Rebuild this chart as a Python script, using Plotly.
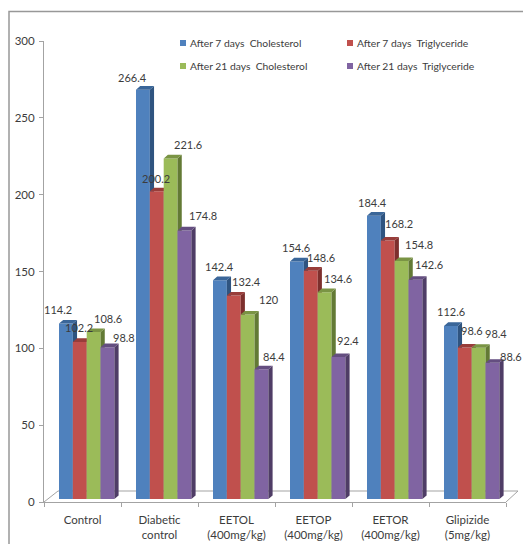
import plotly.graph_objects as go

# Serum lipid levels per treatment group
groups = ["Control", "Diabetic<br>control", "EETOL<br>(400mg/kg)", "EETOP<br>(400mg/kg)",
          "EETOR<br>(400mg/kg)", "Glipizide<br>(5mg/kg)"]
chol_7 = [114.2, 266.4, 142.4, 154.6, 184.4, 112.6]
trig_7 = [102.2, 200.2, 132.4, 148.6, 168.2, 98.6]
chol_21 = [108.6, 221.6, 120, 134.6, 154.8, 98.4]
trig_21 = [98.8, 174.8, 84.4, 92.4, 142.6, 88.6]
series_names = ["After 7 days  Cholesterol", "After 7 days  Triglyceride",
                "After 21 days  Cholesterol", "After 21 days  Triglyceride"]
series_values = [chol_7, trig_7, chol_21, trig_21]

# Label offsets in pixels (right, up) so the value labels stay legible
label_dx = [[-8, -10, 0, -1, -1, 0], [-1, -1, 13, 10, 11, 7],
            [14, 17, 21, 13, 17, 17], [16.5, 18.5, 12.5, 9.5, 13.5, 18.5]]
label_dy = [[14, 12, 14, 14, 13, 14], [14, 13, 14, 13, 17, 17],
            [14, 14, 15, 14, 17, 14.5], [10, 15, 13, 17, 15.5, 6.5]]

W, H = 523, 544
FONT = "Lato, Open Sans, sans-serif"
TEXT = "#3c3c3c"
GRID = "#a3a3a3"
front = ["#4f81bd", "#c0504d", "#9bbb59", "#8064a2"]
side = ["#2f5480", "#7d2f2d", "#637a35", "#4f3d66"]
top = ["#3a6699", "#983d3a", "#7a9444", "#644e80"]

# Plot box in pixels
LEFT, RIGHT = 44, 506
AXIS_BOTTOM, AXIS_TOP = 502, 41
BAR_BOTTOM, BAR_TOP = 499, 38
cat_px = (RIGHT - LEFT) / 6
unit_px = (BAR_BOTTOM - BAR_TOP) / 300
bar_w = 13.85 / cat_px
first_offset = 15 / cat_px
depth_x = 4.2 / cat_px
depth_y = 3.6 / unit_px


def py(p):
    return 1 - p / H


def px(p):
    return p / W


fig = go.Figure()
annotations = []

# Empty trace that keeps the visible value axis on the page
fig.add_trace(go.Scatter(x=[None], y=[None], xaxis="x", yaxis="y", showlegend=False,
                         hoverinfo="skip"))

for s, (name, vals) in enumerate(zip(series_names, series_values)):
    axis = f"y{s + 2}"
    off = first_offset + s * bar_w
    xs = list(range(len(groups)))
    fig.add_trace(go.Bar(x=xs, y=vals, name=name, offset=off, width=bar_w, yaxis=axis,
                         marker=dict(color=front[s], line=dict(width=0)),
                         showlegend=False, hovertemplate=name + ": %{y}<extra></extra>"))
    # Extruded side and top faces of each column
    sx, sy, tx, ty = [], [], [], []
    for c, v in zip(xs, vals):
        x0 = c + off
        x1 = x0 + bar_w
        sx += [x1, x1 + depth_x, x1 + depth_x, x1, x1, None]
        sy += [0, depth_y, v + depth_y, v, 0, None]
        tx += [x0, x1, x1 + depth_x, x0 + depth_x, x0, None]
        ty += [v, v, v + depth_y, v + depth_y, v, None]
    for fx, fy, col in ((sx, sy, side[s]), (tx, ty, top[s])):
        fig.add_trace(go.Scatter(x=fx, y=fy, yaxis=axis, mode="lines", fill="toself",
                                 fillcolor=col, line=dict(width=0), hoverinfo="skip",
                                 showlegend=False))
    for c, v in zip(xs, vals):
        annotations.append(dict(x=c + off + bar_w / 2, y=v, xref="x", yref=axis, text=str(v),
                                showarrow=False, xshift=label_dx[s][c], yshift=label_dy[s][c],
                                font=dict(family=FONT, size=11, color=TEXT)))

# Legend: two rows of two entries
legend_x = [183, 350]
legend_y = [43, 66]
shapes = []
for s, name in enumerate(series_names):
    lx = legend_x[s % 2]
    ly = legend_y[s // 2]
    shapes.append(dict(type="rect", xref="paper", yref="paper", x0=px(lx - 3), x1=px(lx + 3),
                       y0=py(ly + 3), y1=py(ly - 3), fillcolor=front[s], line=dict(width=0)))
    annotations.append(dict(x=px(lx + 5.5), y=py(ly), xref="paper", yref="paper", text=name,
                            showarrow=False, xanchor="left", yanchor="middle", xshift=-1,
                            font=dict(family=FONT, size=10.3, color=TEXT)))

# Floor of the chart box and the outer frame
floor_path = (f"M{px(LEFT)},{py(AXIS_BOTTOM)} L{px(58)},{py(491)} L{px(518)},{py(491)} "
              f"L{px(RIGHT)},{py(AXIS_BOTTOM)}")
shapes.append(dict(type="path", xref="paper", yref="paper", path=floor_path,
                   line=dict(color=GRID, width=1), layer="below"))
shapes.append(dict(type="path", xref="paper", yref="paper",
                   path=f"M{px(9)},{py(544)} L{px(9)},{py(11.5)} L{px(523)},{py(11.5)}",
                   line=dict(color="#989898", width=1.5), layer="below"))

layout = dict(
    width=W, height=H, margin=dict(l=0, r=0, t=0, b=0, autoexpand=False), autosize=False,
    paper_bgcolor="white", plot_bgcolor="rgba(0,0,0,0)", barmode="overlay",
    shapes=shapes, annotations=annotations, showlegend=False,
    xaxis=dict(domain=[px(LEFT), px(RIGHT)], range=[0, 6], showgrid=False, zeroline=False,
               automargin=False, ticklabelstandoff=7,
               tickmode="array", tickvals=[i + 0.5 for i in range(6)], ticktext=groups,
               ticks="", showline=True, linecolor=GRID, linewidth=1, anchor="y",
               tickfont=dict(family=FONT, size=11.5, color=TEXT),
               minor=dict(tickmode="array", tickvals=list(range(7)), ticks="outside",
                          ticklen=4, tickcolor=GRID, tickwidth=1)),
    yaxis=dict(domain=[py(AXIS_BOTTOM), py(AXIS_TOP)], range=[0, 300], dtick=50, showgrid=False,
               automargin=False, ticklabelstandoff=2,
               zeroline=False, showline=True, linecolor=GRID, linewidth=1, ticks="outside",
               ticklen=4, tickcolor=GRID, anchor="x",
               tickfont=dict(family=FONT, size=11.5, color=TEXT)),
)
bar_axis = dict(range=[0, 300], visible=False, showgrid=False, zeroline=False, automargin=False)
layout["yaxis2"] = dict(bar_axis, domain=[py(BAR_BOTTOM), py(BAR_TOP)], anchor="x")
for n in (3, 4, 5):
    layout[f"yaxis{n}"] = dict(bar_axis, overlaying="y2", anchor="x")
fig.update_layout(**layout)

fig.write_html("out.html", config=dict(displayModeBar=False))
